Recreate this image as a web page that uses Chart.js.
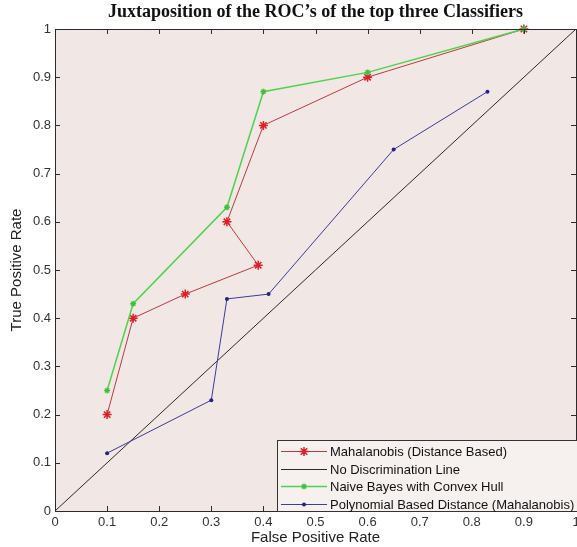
<!DOCTYPE html>
<html>
<head>
<meta charset="utf-8">
<script src="https://cdn.jsdelivr.net/npm/chart.js@4"></script>
<style>
  html, body { margin: 0; padding: 0; background: #ffffff; }
  #wrap { width: 577px; height: 547px; }
</style>
</head>
<body>
<div id="wrap"><canvas id="roc" width="577" height="547"></canvas></div>
<script>
// ROC curves: false positive rate (x) vs true positive rate (y)
const mahalanobisFpr = [0.10, 0.15, 0.25, 0.39, 0.33, 0.40, 0.60, 0.90];
const mahalanobisTpr = [0.20, 0.40, 0.45, 0.51, 0.60, 0.80, 0.90, 1.00];

const diagonalFpr = [0, 1];
const diagonalTpr = [0, 1];

const bayesFpr = [0.10, 0.15, 0.33, 0.40, 0.60, 0.90];
const bayesTpr = [0.25, 0.43, 0.63, 0.87, 0.91, 1.00];

const polyFpr = [0.10, 0.30, 0.33, 0.41, 0.65, 0.83];
const polyTpr = [0.12, 0.23, 0.44, 0.45, 0.75, 0.87];

const seriesNames = [
  'Mahalanobis (Distance Based)',
  'No Discrimination Line',
  'Naive Bayes with Convex Hull',
  'Polynomial Based Distance (Mahalanobis)'
];
const tickValues = [0, 0.1, 0.2, 0.3, 0.4, 0.5, 0.6, 0.7, 0.8, 0.9, 1];

const pts = (xs, ys) => xs.map((x, i) => ({ x: x, y: ys[i] }));

const axisColor = '#2b2b2b';
const sans = '"Liberation Sans", Arial, sans-serif';

// Let the plot run right to the canvas edge; edge tick labels may be clipped
const noEdgePadding = {
  id: 'noEdgePadding',
  beforeLayout(chart) {
    Object.values(chart.scales).forEach(s => {
      s.getPadding = () => ({ left: 0, top: 0, right: 0, bottom: 0 });
    });
  }
};

// Plot background, boxed axes with inward ticks, and the legend box
const framePlugin = {
  id: 'frame',
  beforeDatasetsDraw(chart) {
    const { ctx, chartArea: a } = chart;
    ctx.save();
    ctx.fillStyle = '#f1e7e4';
    ctx.fillRect(a.left, a.top, a.right - a.left, a.bottom - a.top);
    ctx.restore();
  },
  afterDatasetsDraw(chart) {
    const { ctx, chartArea: a, scales } = chart;
    const xs = scales.x, ys = scales.y;
    const tl = 5;
    ctx.save();
    ctx.strokeStyle = axisColor;
    ctx.lineWidth = 1;
    ctx.beginPath();
    ctx.rect(Math.round(a.left) + 0.5, Math.round(a.top) + 0.5,
             Math.round(a.right - a.left), Math.round(a.bottom - a.top));
    ctx.stroke();
    ctx.beginPath();
    tickValues.forEach(v => {
      const px = Math.round(xs.getPixelForValue(v)) + 0.5;
      ctx.moveTo(px, a.bottom); ctx.lineTo(px, a.bottom - tl);
      ctx.moveTo(px, a.top); ctx.lineTo(px, a.top + tl);
      const py = Math.round(ys.getPixelForValue(v)) + 0.5;
      ctx.moveTo(a.left, py); ctx.lineTo(a.left + tl, py);
      ctx.moveTo(a.right, py); ctx.lineTo(a.right - tl, py);
    });
    ctx.stroke();

    // legend
    const bx = 277.5, by = 440.5, bw = 310, bh = Math.round(a.bottom) - 440;
    ctx.fillStyle = '#f6f0ef';
    ctx.fillRect(bx, by, bw, bh);
    ctx.strokeStyle = '#333333';
    ctx.strokeRect(bx, by, bw, bh);
    const rowY = [451, 468.5, 486, 503.5];
    ctx.font = '13px ' + sans;
    ctx.textBaseline = 'middle';
    ctx.textAlign = 'left';
    chart.data.datasets.forEach((ds, i) => {
      const y = Math.round(rowY[i]) + 0.5;
      ctx.strokeStyle = ds.borderColor;
      ctx.lineWidth = ds.borderWidth;
      ctx.beginPath();
      ctx.moveTo(281, y); ctx.lineTo(327, y);
      ctx.stroke();
      if (ds.pointRadius > 0) {
        ctx.fillStyle = ds.pointBackgroundColor;
        ctx.strokeStyle = ds.pointBorderColor;
        ctx.lineWidth = ds.pointBorderWidth;
        Chart.helpers.drawPoint(ctx, {
          pointStyle: ds.pointStyle,
          radius: ds.pointRadius,
          borderWidth: ds.pointBorderWidth
        }, 304, y);
      }
      ctx.fillStyle = '#111111';
      ctx.fillText(ds.label, 330, y + 0.5);
    });
    ctx.restore();
  }
};

new Chart(document.getElementById('roc'), {
  type: 'scatter',
  data: {
    datasets: [
      {
        label: seriesNames[0],
        data: pts(mahalanobisFpr, mahalanobisTpr),
        order: 4,
        showLine: true,
        clip: false,
        borderColor: '#c0393f',
        borderWidth: 1,
        pointStyle: 'star',
        pointRadius: 4.5,
        pointBorderWidth: 1.5,
        pointBorderColor: '#e01e25',
        pointBackgroundColor: '#e01e25'
      },
      {
        label: seriesNames[1],
        data: pts(diagonalFpr, diagonalTpr),
        order: 3,
        showLine: true,
        clip: false,
        borderColor: '#2a2a2a',
        borderWidth: 1,
        pointRadius: 0
      },
      {
        label: seriesNames[2],
        data: pts(bayesFpr, bayesTpr),
        order: 2,
        showLine: true,
        clip: false,
        borderColor: '#4fd24f',
        borderWidth: 1.5,
        pointStyle: 'star',
        pointRadius: 3,
        pointBorderWidth: 1.3,
        pointBorderColor: '#3fbf3f',
        pointBackgroundColor: '#3fbf3f'
      },
      {
        label: seriesNames[3],
        data: pts(polyFpr, polyTpr),
        order: 1,
        showLine: true,
        clip: false,
        borderColor: '#3c3c9c',
        borderWidth: 1,
        pointStyle: 'circle',
        pointRadius: 2,
        pointBorderWidth: 0,
        pointBorderColor: '#22228a',
        pointBackgroundColor: '#22228a'
      }
    ]
  },
  options: {
    responsive: false,
    animation: false,
    devicePixelRatio: 1,
    layout: { autoPadding: false, padding: { top: 0, right: 1, left: 0, bottom: 0 } },
    plugins: {
      legend: { display: false },
      tooltip: { enabled: false },
      title: {
        display: true,
        fullSize: false,
        text: 'Juxtaposition of the ROC\u2019s of the top three Classifiers',
        color: '#111111',
        font: { family: '"Liberation Serif", "DejaVu Serif", serif', size: 18, weight: 'bold', lineHeight: 1.2 },
        padding: { top: 2, bottom: 5.4 }
      }
    },
    scales: {
      x: {
        type: 'linear',
        min: 0, max: 1,
        afterBuildTicks(scale) { scale.ticks = tickValues.map(v => ({ value: v })); },
        afterFit(scale) { scale.height = 36; scale.paddingLeft = 0; scale.paddingRight = 0; },
        grid: { display: false, drawTicks: false },
        border: { display: false },
        ticks: {
          color: '#333333',
          padding: 4,
          maxRotation: 0,
          autoSkip: false,
          font: { family: sans, size: 13 },
          callback: v => String(Math.round(v * 10) / 10)
        },
        title: {
          display: true,
          text: 'False Positive Rate',
          color: '#222222',
          font: { family: sans, size: 15, lineHeight: 1.2 },
          padding: { top: 0, bottom: 0 }
        }
      },
      y: {
        type: 'linear',
        min: 0, max: 1,
        afterBuildTicks(scale) { scale.ticks = tickValues.map(v => ({ value: v })); },
        afterFit(scale) { scale.width = 55; scale.paddingTop = 0; scale.paddingBottom = 0; },
        grid: { display: false, drawTicks: false },
        border: { display: false },
        ticks: {
          color: '#333333',
          padding: 4,
          autoSkip: false,
          font: { family: sans, size: 13 },
          callback: v => String(Math.round(v * 10) / 10)
        },
        title: {
          display: true,
          text: 'True Positive Rate',
          color: '#222222',
          font: { family: sans, size: 15, lineHeight: 1.2 },
          padding: { top: 8, bottom: 0 }
        }
      }
    }
  },
  plugins: [noEdgePadding, framePlugin]
});
</script>
</body>
</html>
